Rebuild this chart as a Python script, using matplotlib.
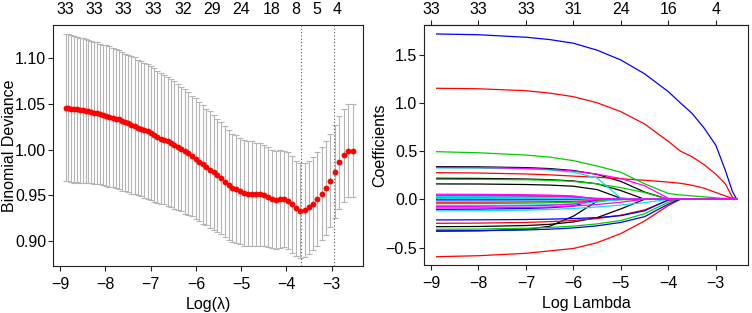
import matplotlib
matplotlib.use("Agg")
import matplotlib.pyplot as plt

plt.rcParams['font.family'] = ['Liberation Sans', 'DejaVu Sans']
plt.rcParams['font.size'] = 11.5

# ---- cross-validation curve (left panel) ----
log_lambda = [-8.880, -8.818, -8.756, -8.693, -8.630, -8.566, -8.502, -8.438, -8.373, -8.308,
              -8.243, -8.177, -8.111, -8.044, -7.977, -7.910, -7.842, -7.774, -7.705, -7.636,
              -7.567, -7.497, -7.427, -7.356, -7.285, -7.213, -7.141, -7.069, -6.996, -6.923,
              -6.849, -6.775, -6.700, -6.625, -6.550, -6.474, -6.397, -6.320, -6.243, -6.165,
              -6.087, -6.008, -5.929, -5.849, -5.769, -5.688, -5.607, -5.525, -5.443, -5.361,
              -5.278, -5.194, -5.110, -5.025, -4.940, -4.855, -4.768, -4.682, -4.595, -4.507,
              -4.419, -4.330, -4.240, -4.151, -4.060, -3.969, -3.878, -3.786, -3.693, -3.600,
              -3.507, -3.412, -3.318, -3.222, -3.126, -3.030, -2.933, -2.835, -2.737, -2.638,
              -2.538]

cvm = [1.046, 1.046, 1.045, 1.044, 1.044, 1.043, 1.043, 1.042, 1.042, 1.041,
       1.040, 1.040, 1.039, 1.038, 1.037, 1.036, 1.035, 1.034, 1.033, 1.031,
       1.030, 1.029, 1.027, 1.026, 1.024, 1.023, 1.021, 1.020, 1.018, 1.016,
       1.014, 1.012, 1.011, 1.009, 1.007, 1.005, 1.003, 1.001, 0.998, 0.996,
       0.993, 0.990, 0.987, 0.984, 0.981, 0.978, 0.975, 0.972, 0.969, 0.965,
       0.961, 0.958, 0.957, 0.955, 0.953, 0.952, 0.952, 0.951, 0.951, 0.950,
       0.948, 0.946, 0.945, 0.946, 0.946, 0.944, 0.940, 0.936, 0.933, 0.934,
       0.937, 0.941, 0.946, 0.952, 0.958, 0.966, 0.976, 0.986, 0.994, 0.999,
       0.999]

cvsd = [0.080, 0.080, 0.080, 0.080, 0.079, 0.079, 0.079, 0.079, 0.078, 0.078,
        0.078, 0.078, 0.077, 0.077, 0.077, 0.077, 0.076, 0.076, 0.076, 0.076,
        0.075, 0.075, 0.075, 0.075, 0.074, 0.074, 0.074, 0.074, 0.073, 0.073,
        0.072, 0.072, 0.071, 0.071, 0.070, 0.070, 0.069, 0.068, 0.068, 0.067,
        0.066, 0.066, 0.065, 0.065, 0.064, 0.064, 0.063, 0.062, 0.061, 0.061,
        0.060, 0.059, 0.059, 0.058, 0.058, 0.057, 0.057, 0.056, 0.056, 0.055,
        0.055, 0.054, 0.054, 0.054, 0.053, 0.053, 0.053, 0.052, 0.052, 0.051,
        0.051, 0.051, 0.051, 0.051, 0.051, 0.051, 0.051, 0.051, 0.051, 0.051,
        0.051]

lambda_min = -3.69
lambda_1se = -2.95

nz_pos = [-8.88, -8.24, -7.61, -6.95, -6.29, -5.65, -5.01, -4.33, -3.79, -3.33, -2.89]
nz_labels = ['33', '33', '33', '33', '32', '29', '24', '18', '8', '5', '4']

# ---- coefficient paths (right panel) ----
path_x = [-8.88, -8.0, -7.0, -6.5, -6.0, -5.5, -5.0, -4.5, -4.0, -3.75, -3.5, -3.25, -3.0, -2.8, -2.65, -2.56]

paths_black = [
    [0.338, 0.336, 0.328, 0.318, 0.298, 0.258, 0.185, 0.075, 0, 0, 0, 0, 0, 0, 0, 0],
    [0.218, 0.216, 0.210, 0.203, 0.190, 0.160, 0.090, 0, 0, 0, 0, 0, 0, 0, 0, 0],
    [0.159, 0.158, 0.153, 0.147, 0.135, 0.100, 0.010, 0, 0, 0, 0, 0, 0, 0, 0, 0],
    [-0.284, -0.282, -0.272, -0.260, -0.235, -0.190, -0.100, 0, 0, 0, 0, 0, 0, 0, 0, 0],
    [-0.330, -0.326, -0.312, -0.280, -0.175, -0.020, 0, 0, 0, 0, 0, 0, 0, 0, 0, 0],
    [0.003, 0.003, 0.002, 0.002, 0.001, 0, 0, 0, 0, 0, 0, 0, 0, 0, 0, 0],
]
paths_red = [
    [1.150, 1.145, 1.125, 1.100, 1.063, 1.000, 0.908, 0.780, 0.600, 0.500, 0.440, 0.360, 0.260, 0.160, 0.020, 0],
    [0.276, 0.272, 0.262, 0.253, 0.240, 0.228, 0.212, 0.197, 0.178, 0.166, 0.145, 0.115, 0.070, 0.035, 0.008, 0],
    [-0.595, -0.585, -0.560, -0.535, -0.510, -0.450, -0.355, -0.225, -0.065, 0, 0, 0, 0, 0, 0, 0],
    [-0.249, -0.247, -0.240, -0.232, -0.220, -0.200, -0.165, -0.110, -0.010, 0, 0, 0, 0, 0, 0, 0],
    [0.034, 0.033, 0.030, 0.027, 0.020, 0, 0, 0, 0, 0, 0, 0, 0, 0, 0, 0],
    [-0.030, -0.030, -0.028, -0.026, -0.022, -0.012, 0, 0, 0, 0, 0, 0, 0, 0, 0, 0],
]
paths_green = [
    [0.493, 0.482, 0.458, 0.437, 0.400, 0.345, 0.280, 0.160, 0.060, 0.045, 0.035, 0.025, 0.015, 0.008, 0.003, 0],
    [0.207, 0.206, 0.202, 0.197, 0.185, 0.160, 0.120, 0.070, 0, 0, 0, 0, 0, 0, 0, 0],
    [-0.311, -0.309, -0.300, -0.292, -0.278, -0.255, -0.220, -0.150, -0.030, 0, 0, 0, 0, 0, 0, 0],
    [0.017, 0.017, 0.015, 0.013, 0.010, 0.004, 0, 0, 0, 0, 0, 0, 0, 0, 0, 0],
    [-0.045, -0.044, -0.040, -0.036, -0.030, -0.018, -0.005, 0, 0, 0, 0, 0, 0, 0, 0, 0],
    [0.008, 0.008, 0.007, 0.006, 0.004, 0, 0, 0, 0, 0, 0, 0, 0, 0, 0, 0],
]
paths_blue = [
    [1.713, 1.705, 1.679, 1.655, 1.617, 1.545, 1.443, 1.300, 1.115, 1.000, 0.890, 0.740, 0.560, 0.300, 0.080, 0],
    [-0.328, -0.326, -0.318, -0.310, -0.297, -0.275, -0.240, -0.180, -0.050, 0, 0, 0, 0, 0, 0, 0],
    [-0.214, -0.213, -0.210, -0.206, -0.200, -0.190, -0.170, -0.120, -0.005, 0, 0, 0, 0, 0, 0, 0],
    [-0.105, -0.102, -0.095, -0.088, -0.070, 0, 0, 0, 0, 0, 0, 0, 0, 0, 0, 0],
    [-0.007, -0.007, -0.006, -0.005, -0.003, 0, 0, 0, 0, 0, 0, 0, 0, 0, 0, 0],
]
paths_cyan = [
    [0.325, 0.323, 0.315, 0.303, 0.280, 0.220, 0.010, 0, 0, 0, 0, 0, 0, 0, 0, 0],
    [-0.120, -0.118, -0.112, -0.106, -0.095, -0.080, -0.060, -0.035, 0, 0, 0, 0, 0, 0, 0, 0],
    [-0.065, -0.064, -0.060, -0.056, -0.048, -0.030, 0, 0, 0, 0, 0, 0, 0, 0, 0, 0],
    [0.010, 0.010, 0.009, 0.008, 0.006, 0, 0, 0, 0, 0, 0, 0, 0, 0, 0, 0],
    [0.028, 0.027, 0.024, 0.020, 0.012, 0, 0, 0, 0, 0, 0, 0, 0, 0, 0, 0],
]
paths_magenta = [
    [0.330, 0.328, 0.320, 0.310, 0.292, 0.260, 0.215, 0.140, 0.010, 0, 0, 0, 0, 0, 0, 0],
    [0.052, 0.051, 0.047, 0.043, 0.035, 0, 0, 0, 0, 0, 0, 0, 0, 0, 0, 0],
    [-0.075, -0.073, -0.068, -0.062, -0.050, 0, 0, 0, 0, 0, 0, 0, 0, 0, 0, 0],
    [0.040, 0.040, 0.038, 0.035, 0.028, 0.010, 0, 0, 0, 0, 0, 0, 0, 0, 0, 0],
    [-0.090, -0.089, -0.085, -0.080, -0.070, -0.055, -0.030, 0, 0, 0, 0, 0, 0, 0, 0, 0],
]

path_top_pos = [-9, -8, -7, -6, -5, -4, -3]
path_top_labels = ['33', '33', '33', '31', '24', '16', '4']


def style_axes(ax):
    for sp in ax.spines.values():
        sp.set_linewidth(0.8)
        sp.set_color('#222222')
    ax.tick_params(direction='out', length=3.6, width=0.8, color='#222222')
    ax.tick_params(axis='x', pad=4.0)
    ax.tick_params(axis='y', pad=1.5)


fig = plt.figure(figsize=(7.52, 3.13), dpi=100)

# left: binomial deviance
ax1 = fig.add_axes([0.0709, 0.1502, 0.4118, 0.770])
ax1.errorbar(log_lambda, cvm, yerr=cvsd, fmt='none', ecolor='#b4b4b4',
             elinewidth=0.8, capsize=2.0, capthick=0.8)
ax1.plot(log_lambda, cvm, 'o', color='red', markersize=4.2, markeredgewidth=0)
ax1.axvline(lambda_min, color='#555555', lw=0.8, ls=(0, (1, 2)))
ax1.axvline(lambda_1se, color='#555555', lw=0.8, ls=(0, (1, 2)))
ax1.set_xlim(-9.15, -2.31)
ax1.set_ylim(0.8727, 1.1364)
ax1.set_xticks([-9, -8, -7, -6, -5, -4, -3])
ax1.set_yticks([0.90, 0.95, 1.00, 1.05, 1.10])
ax1.set_yticklabels(['0.90', '0.95', '1.00', '1.05', '1.10'])
ax1.set_xlabel('Log(λ)', labelpad=4)
ax1.set_ylabel('Binomial Deviance')
ax1.yaxis.set_label_coords(-0.118, 0.5)
style_axes(ax1)
top1 = ax1.secondary_xaxis('top')
top1.set_xticks(nz_pos)
top1.set_xticklabels(nz_labels)
top1.tick_params(length=0, pad=6)
top1.spines['top'].set_visible(False)

# right: coefficient paths
ax2 = fig.add_axes([0.5642, 0.1534, 0.4300, 0.7668])
groups = [(paths_black, '#000000'), (paths_red, '#ff0000'), (paths_green, '#00cd00'),
          (paths_blue, '#0000ff'), (paths_cyan, '#00e5ee'), (paths_magenta, '#ff00ff')]
for paths, col in groups:
    for row in paths:
        ax2.plot(path_x, row, color=col, lw=0.9)
ax2.set_xlim(-9.14, -2.33)
ax2.set_ylim(-0.681, 1.806)
ax2.set_xticks([-9, -8, -7, -6, -5, -4, -3])
ax2.set_yticks([-0.5, 0.0, 0.5, 1.0, 1.5])
ax2.set_yticklabels(['−0.5', '0.0', '0.5', '1.0', '1.5'])
ax2.set_xlabel('Log Lambda', labelpad=4)
ax2.set_ylabel('Coefficients')
ax2.yaxis.set_label_coords(-0.115, 0.5)
style_axes(ax2)
top2 = ax2.secondary_xaxis('top')
top2.set_xticks(path_top_pos)
top2.set_xticklabels(path_top_labels)
top2.tick_params(direction='out', length=3.6, width=0.8, color='#222222', pad=2)

fig.savefig('out.png', dpi=100)
